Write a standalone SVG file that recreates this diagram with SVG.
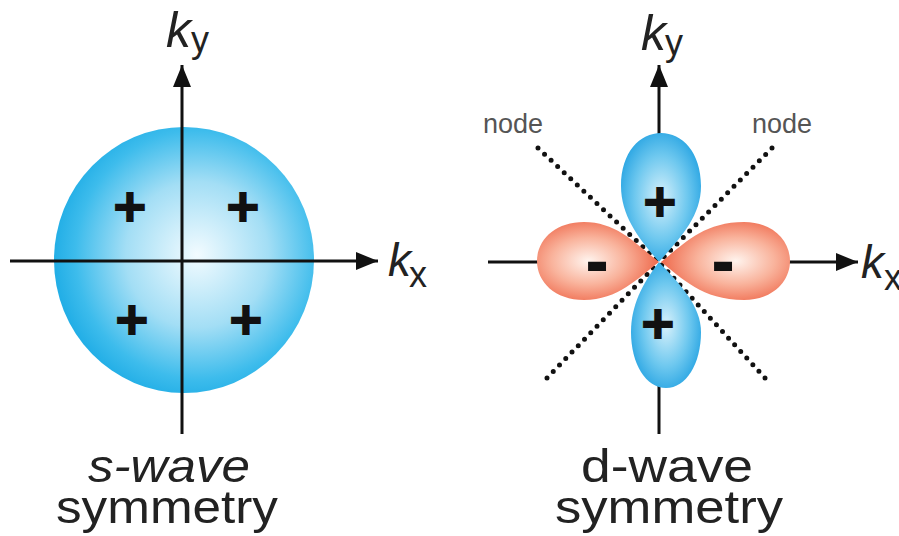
<svg xmlns="http://www.w3.org/2000/svg" width="899" height="536" viewBox="0 0 899 536">
<style>
.ax{stroke:#111;stroke-width:3;fill:none}
.dot{stroke:#111;stroke-width:5;stroke-linecap:round;stroke-dasharray:0 9;fill:none}
.k{font-family:"Liberation Sans",Arial,sans-serif;font-style:italic;fill:#222}
.sub{font-family:"Liberation Sans",Arial,sans-serif;fill:#222}
.sign{font-family:"DejaVu Sans",sans-serif;font-weight:bold;font-size:44px;fill:#111;stroke:#111;stroke-width:2.2;stroke-linejoin:miter;text-anchor:middle}
.minus{font-family:"DejaVu Sans",sans-serif;font-weight:bold;font-size:52px;fill:#111;stroke:#111;stroke-width:2;text-anchor:middle}
.lbl{font-family:"Liberation Sans",Arial,sans-serif;font-size:46px;fill:#222;text-anchor:middle}
.node{font-family:"Liberation Sans",Arial,sans-serif;font-size:27px;fill:#555}
</style>
<defs>
<marker id="arr" markerUnits="userSpaceOnUse" markerWidth="24" markerHeight="20" refX="22" refY="9" orient="auto">
<path d="M0,0 L22,9 L0,18 z" fill="#111"/>
</marker>
<radialGradient id="gs" cx="0.55" cy="0.48" r="0.55">
<stop offset="0" stop-color="#f2fbff"/>
<stop offset="0.5" stop-color="#a3def5"/>
<stop offset="0.85" stop-color="#3dbcec"/>
<stop offset="1" stop-color="#22aee6"/>
</radialGradient>
<radialGradient id="gb" cx="0.5" cy="0.5" r="0.6">
<stop offset="0" stop-color="#d8f1fb"/>
<stop offset="0.55" stop-color="#6ec8ef"/>
<stop offset="1" stop-color="#1a9de0"/>
</radialGradient>
<radialGradient id="gr" cx="0.42" cy="0.5" r="0.6">
<stop offset="0" stop-color="#fff4ee"/>
<stop offset="0.5" stop-color="#f9b39c"/>
<stop offset="1" stop-color="#ee6446"/>
</radialGradient>
<radialGradient id="gr2" cx="0.58" cy="0.5" r="0.6">
<stop offset="0" stop-color="#fff4ee"/>
<stop offset="0.5" stop-color="#f9b39c"/>
<stop offset="1" stop-color="#ee6446"/>
</radialGradient>
</defs>

<g id="s-wave">
<ellipse cx="184" cy="260" rx="130" ry="133" fill="url(#gs)"/>
</g>

<g id="d-wave-nodes">
<line class="dot" x1="538" y1="148" x2="659" y2="262"/>
<line class="dot" x1="772" y1="148" x2="659" y2="262"/>
<line class="dot" x1="547" y1="378" x2="659" y2="262"/>
<line class="dot" x1="765" y1="378" x2="659" y2="262"/>
</g>

<g id="connectors">
<line class="ax" x1="10" y1="261" x2="378" y2="261" marker-end="url(#arr)"/>
<line class="ax" x1="182" y1="434" x2="182" y2="65" marker-end="url(#arr)"/>
<line class="ax" x1="488" y1="262" x2="540" y2="262"/>
<line class="ax" x1="786" y1="262" x2="858" y2="262" marker-end="url(#arr)"/>
<line class="ax" x1="659" y1="136" x2="659" y2="65" marker-end="url(#arr)"/>
<line class="ax" x1="659" y1="385" x2="659" y2="434"/>
</g>

<g id="lobe-top">
<path d="M659,262 C642,242 621,218 621,186 C621,152 640,133 661,133 C682,133 701,152 701,186 C701,218 678,240 659,262 Z" fill="url(#gb)"/>
</g>
<g id="lobe-bottom">
<path d="M659,262 C642,284 631,306 631,332 C631,364 646,388 666,388 C686,388 701,364 701,332 C701,306 680,284 659,262 Z" fill="url(#gb)"/>
</g>
<g id="lobe-left">
<path d="M659,262 C638,246 618,222 584,222 C555,222 537,240 537,261 C537,282 555,300 584,300 C618,300 638,278 659,262 Z" fill="url(#gr)"/>
</g>
<g id="lobe-right">
<path d="M661,262 C682,246 702,222 744,222 C772,222 790,240 790,261 C790,282 772,300 744,300 C702,300 682,278 661,262 Z" fill="url(#gr2)"/>
</g>

<g id="signs">
<text class="sign" x="130" y="221">+</text>
<text class="sign" x="243" y="221">+</text>
<text class="sign" x="132" y="334">+</text>
<text class="sign" x="246" y="334">+</text>
<text class="sign" x="660" y="216">+</text>
<text class="sign" x="658" y="338">+</text>
<text class="minus" x="597" y="281">-</text>
<text class="minus" x="723" y="281">-</text>
</g>

<g id="labels">
<text class="k" x="166" y="47" font-size="50">k</text><text class="sub" x="191" y="52" font-size="36">y</text>
<text class="k" x="388" y="276" font-size="46">k</text><text class="sub" x="409" y="287" font-size="36">x</text>
<text class="k" x="641" y="50" font-size="50">k</text><text class="sub" x="665" y="55" font-size="36">y</text>
<text class="k" x="861" y="278" font-size="46">k</text><text class="sub" x="884" y="290" font-size="36">x</text>
<text class="node" x="483" y="133">node</text>
<text class="node" x="752" y="133">node</text>
<text class="lbl" x="169" y="482" font-style="italic" textLength="162" lengthAdjust="spacingAndGlyphs">s-wave</text>
<text class="lbl" x="167" y="523" textLength="222" lengthAdjust="spacingAndGlyphs">symmetry</text>
<text class="lbl" x="667" y="482" textLength="172" lengthAdjust="spacingAndGlyphs">d-wave</text>
<text class="lbl" x="669" y="523" textLength="228" lengthAdjust="spacingAndGlyphs">symmetry</text>
</g>
</svg>
